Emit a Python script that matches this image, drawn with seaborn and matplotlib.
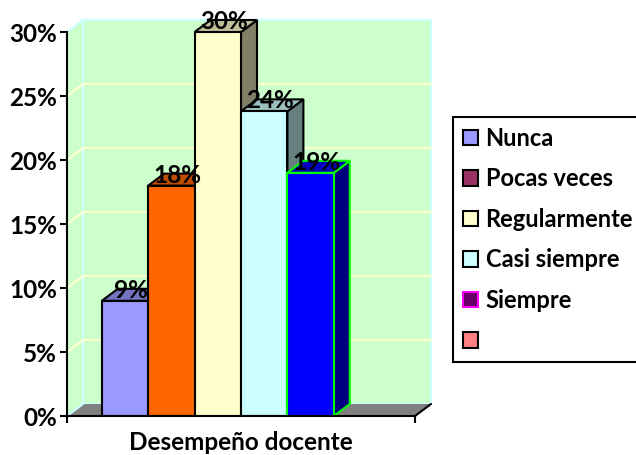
import matplotlib
matplotlib.use("Agg")
import matplotlib.pyplot as plt
import pandas as pd
import seaborn as sns
from matplotlib.patches import Polygon
from matplotlib.colors import to_rgb

sns.set_theme(style="white")
plt.rcParams['font.family'] = ['Lato', 'DejaVu Sans']
plt.rcParams['font.weight'] = 'bold'
plt.rcParams['text.color'] = 'black'

group = "Desempeño docente"
series = ["Nunca", "Pocas veces", "Regularmente", "Casi siempre", "Siempre", " "]
values = [9, 18, 30, 23.8, 19, float('nan')]
value_labels = ["9%", "18%", "30%", "24%", "19%"]
legend_colors = ["#9999FF", "#993366", "#FFFFCC", "#CCFFFF", "#660066", "#FF8080"]
legend_edges = ["black", "black", "black", "black", "#FF00FF", "black"]
bar_colors = ["#9999FF", "#FF6600", "#FFFFCC", "#CCFFFF", "#0000FF"]
bar_edges = ["black", "black", "black", "black", "#00FF00"]
yticks = [0, 5, 10, 15, 20, 25, 30]
ytick_labels = ["0%", "5%", "10%", "15%", "20%", "25%", "30%"]

W, H = 636, 455
L, R, T, B = 67, 415, 32, 416
DX_PX, DY_PX = 16, 12
FS = 17.5
FS_LEGEND = 17

fig = plt.figure(figsize=(W / 100, H / 100), dpi=100, facecolor="white")
ax = fig.add_axes([L / W, 1 - B / H, (R - L) / W, (B - T) / H])
ax.patch.set_alpha(0)

df = pd.DataFrame({"grupo": [group] * len(series), "serie": series, "valor": values})
sns.barplot(data=df, x="grupo", y="valor", hue="serie", hue_order=series,
            palette=legend_colors, width=0.8, gap=0, saturation=1,
            edgecolor="black", linewidth=1.5, ax=ax, legend=True)

ax.set_xlim(-0.5, 0.5)
ax.set_ylim(0, 30)
dx = DX_PX / (R - L)
dy = DY_PX / (B - T) * 30


def poly(pts, fc, ec="none", lw=0, z=1):
    ax.add_patch(Polygon(pts, closed=True, facecolor=fc, edgecolor=ec, linewidth=lw,
                         zorder=z, clip_on=False, joinstyle="miter"))


x0, x1, ymax = -0.5, 0.5, 30
wall, wall_edge, grid = "#CCFFCC", "#CCFFFF", "#FFFFCC"
poly([(x0, 0), (x0 + dx, dy), (x0 + dx, ymax + dy), (x0, ymax)], wall, wall_edge, 1.5, 0.5)
poly([(x0 + dx, dy), (x1 + dx, dy), (x1 + dx, ymax + dy), (x0 + dx, ymax + dy)], wall, wall_edge, 1.5, 0.5)
for t in yticks[1:-1]:
    ax.plot([x0, x0 + dx, x1 + dx], [t, t + dy, t + dy], color=grid, lw=1.5, zorder=0.7, clip_on=False)
poly([(x0, 0), (x0 + dx, dy), (x1 + dx, dy), (x1, 0)], "#808080", "none", 0, 0.8)
ax.plot([x1, x1 + dx], [0, dy], color="black", lw=1.5, zorder=0.9, clip_on=False)
ax.plot([x0, x0 + dx], [0, dy], color=wall_edge, lw=1.5, zorder=0.9, clip_on=False)

bars = [p for p in ax.patches if type(p).__name__ == "Rectangle" and p.get_height() > 0]


def shade(c, f):
    return tuple(v * f for v in to_rgb(c))


for i, (p, fc, ec, lab) in enumerate(zip(bars, bar_colors, bar_edges, value_labels)):
    z = 3 + i
    a, b, h = p.get_x(), p.get_x() + p.get_width(), p.get_height()
    p.set_facecolor(fc)
    p.set_edgecolor(ec)
    p.set_linewidth(1.5)
    p.set_zorder(z + 0.2)
    poly([(b, 0), (b + dx, dy), (b + dx, h + dy), (b, h)], shade(fc, 0.5), ec, 1.5, z)
    poly([(a, h), (a + dx, h + dy), (b + dx, h + dy), (b, h)], shade(fc, 0.75), ec, 1.5, z + 0.1)
    ax.annotate(lab, ((a + b) / 2, h), xytext=(4.5, 7.5), textcoords="offset points",
                ha="center", va="center", fontsize=FS, fontweight="bold", color="black",
                zorder=20, annotation_clip=False)

sns.despine(ax=ax, top=True, right=True)
for s in ("left", "bottom"):
    ax.spines[s].set_linewidth(1.5)
    ax.spines[s].set_color("black")
    ax.spines[s].set_zorder(15)
ax.set_yticks(yticks)
ax.set_yticklabels(ytick_labels, fontsize=FS, fontweight="bold", color="black")
ax.set_xticks([x0, x1])
ax.set_xticklabels(["", ""])
ax.tick_params(axis="both", length=5, width=1.5, color="black", left=True, bottom=True, pad=2)
ax.set_ylabel("")
ax.set_xlabel(group, fontsize=FS, fontweight="bold", color="black", labelpad=4)

old = ax.get_legend()
handles = old.legend_handles
leg = ax.legend(handles, series, loc="upper left", bbox_to_anchor=(453 / W, 1 - 117 / H),
                bbox_transform=fig.transFigure, frameon=True, fancybox=False,
                edgecolor="black", facecolor="white", framealpha=1, borderaxespad=0,
                handlelength=0.62, handleheight=0.62, handletextpad=0.34, labelspacing=0.74,
                borderpad=0.42, prop={"family": ["Lato", "DejaVu Sans"], "weight": "bold", "size": FS_LEGEND})
leg.get_frame().set_linewidth(1.5)
leg.set_zorder(30)
for t in leg.get_texts():
    t.set_color("black")
for h, c, e in zip(leg.legend_handles, legend_colors, legend_edges):
    h.set_facecolor(c)
    h.set_edgecolor(e)
    h.set_linewidth(1.5)

fig.savefig("out.png", dpi=100, facecolor="white")
